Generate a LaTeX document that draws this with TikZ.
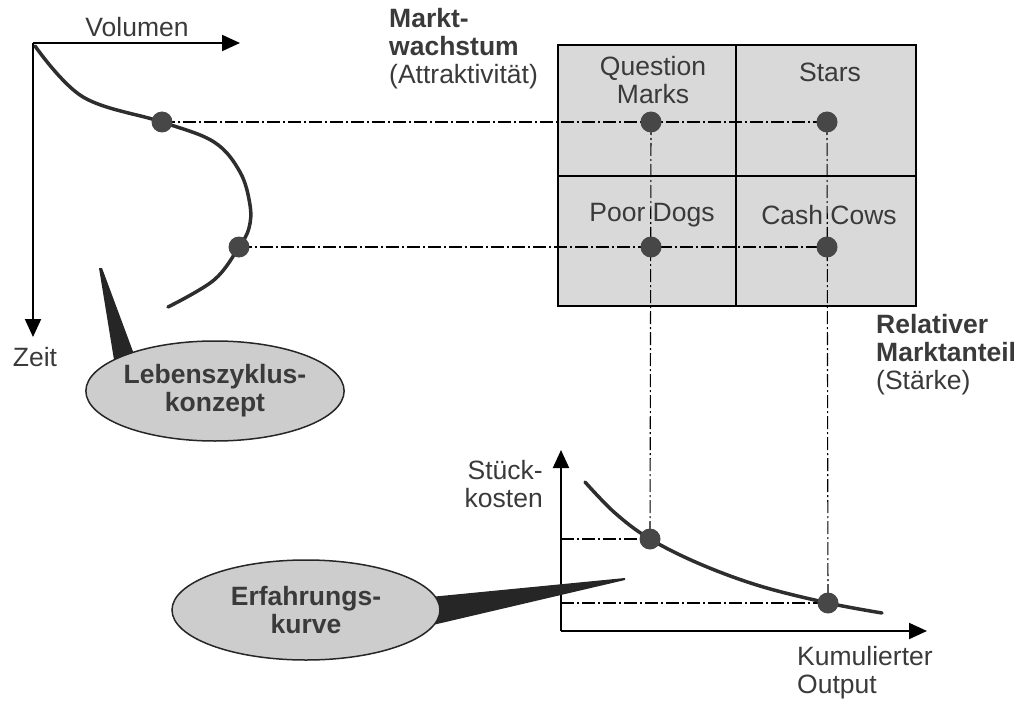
\documentclass[tikz,border=0pt]{standalone}
\usepackage{fontspec}
\setmainfont{Liberation Sans}
\usetikzlibrary{arrows.meta,shapes.geometric}
\definecolor{ink}{HTML}{3A3A3A}
\definecolor{boxgray}{HTML}{D9D9D9}
\definecolor{bubblegray}{HTML}{CDCDCD}
\definecolor{dotgray}{HTML}{474747}
\definecolor{curvegray}{HTML}{2E2E2E}
\definecolor{tailgray}{HTML}{262626}
\begin{document}
\begin{tikzpicture}[x=1pt,y=-1pt,
  lbl/.style={font=\fontsize{26.5}{28}\selectfont, text=ink, inner sep=0pt},
  lblb/.style={font=\fontsize{26.5}{28}\selectfont\bfseries, text=ink, inner sep=0pt},
  dotmark/.style={circle, fill=dotgray, minimum size=20pt, inner sep=0pt},
  guide/.style={line width=1.1pt, dash pattern=on 13pt off 3pt on 2pt off 3pt},
  axisline/.style={line width=2pt, -{Triangle[length=18pt,width=16pt]}},
  curveline/.style={line width=3.5pt, color=curvegray, line cap=round},
  bubble/.style={ellipse, draw=black!85, line width=1.5pt, fill=bubblegray,
    minimum height=100pt, inner sep=0pt, align=center},
  tail/.style={fill=tailgray}]
\useasboundingbox (0,0) rectangle (1028,706);

% portfolio matrix
\draw[line width=1.5pt, fill=boxgray] (558,45) rectangle (916,306);
\draw[line width=1.5pt] (736,45) -- (736,306) (558,176) -- (916,176);

% axes of the life cycle diagram
\coordinate (lcO) at (33,43);
\coordinate (lcX) at (240,43);
\coordinate (lcY) at (33,337);
\draw[axisline] (lcO) -- (lcX);
\draw[axisline] (lcO) -- (lcY);

% axes of the experience curve
\coordinate (ecO) at (561,631);
\coordinate (ecY) at (561,450);
\coordinate (ecX) at (927,631);
\draw[axisline] (ecO) -- (ecY);
\draw[axisline] (ecO) -- (ecX);

% points
\node[dotmark] (lc1) at (162,122) {};
\node[dotmark] (lc2) at (239,247) {};
\node[dotmark] (qm) at (651,122) {};
\node[dotmark] (st) at (827,122) {};
\node[dotmark] (pd) at (651,247) {};
\node[dotmark] (cc) at (827,247) {};
\node[dotmark] (ec1) at (650,539) {};
\node[dotmark] (ec2) at (828,603) {};
\coordinate (ecy1) at (561,539);
\coordinate (ecy2) at (561,603);

% guide lines
\draw[guide] (lc1.center) -- (st.center);
\draw[guide] (lc2.center) -- (cc.center);
\draw[guide] (qm.center) -- (ec1.center);
\draw[guide] (st.center) -- (ec2.center);
\draw[guide] (ecy1) -- (ec1.center);
\draw[guide] (ecy2) -- (ec2.center);

% life cycle curve
\draw[curveline] plot[smooth, tension=0.6] coordinates {(35,46) (83,97) (162,122) (214,142) (240,172) (250,205) (249,228) (239,247) (214,280) (168,307)};
% experience curve
\draw[curveline] plot[smooth, tension=0.6] coordinates {(585,482) (615,513) (650,539) (700,564) (760,586) (828,603) (882,613)};

% points on top of curves and guides
\foreach \n in {lc1,lc2,qm,st,pd,cc,ec1,ec2} \fill[dotgray] (\n) circle (10.5pt);

% callout tails
\fill[tail] (99,268) -- (102,268) -- (138,365) -- (116,372) -- cycle;
\fill[tail] (625,578) -- (625,580) -- (420,628) -- (420,598) -- cycle;

% callout bubbles
\node[bubble, lblb, minimum width=256pt] (lz) at (215,391) {Lebenszyklus-\\konzept};
\node[bubble, lblb, minimum width=268pt] (ek) at (306,610) {Erfahrungs-\\kurve};

% axis labels
\node[lbl] (vol) at (137,27) {Volumen};
\node[lbl] (zeit) at (35,357) {Zeit};
\node[lbl, anchor=east, align=right] (sk) at (543,484) {Stück-\\kosten};
\node[lbl, anchor=west, align=left] (ko) at (797,673) {Kumulierter\\Output};
\node[lbl, anchor=west, align=left] (mw) at (389,49) {\bfseries Markt-\\\bfseries wachstum\\(Attraktivität)};
\node[lbl, anchor=west, align=left] (rm) at (876,355) {\bfseries Relativer\\\bfseries Marktanteil\\(Stärke)};

% matrix labels
\node[lbl, align=center] (tqm) at (653,80) {Question\\Marks};
\node[lbl] (tst) at (830,72) {Stars};
\node[lbl] (tpd) at (652,215) {Poor Dogs};
\node[lbl] (tcc) at (829,215) {Cash Cows};
\end{tikzpicture}
\end{document}
